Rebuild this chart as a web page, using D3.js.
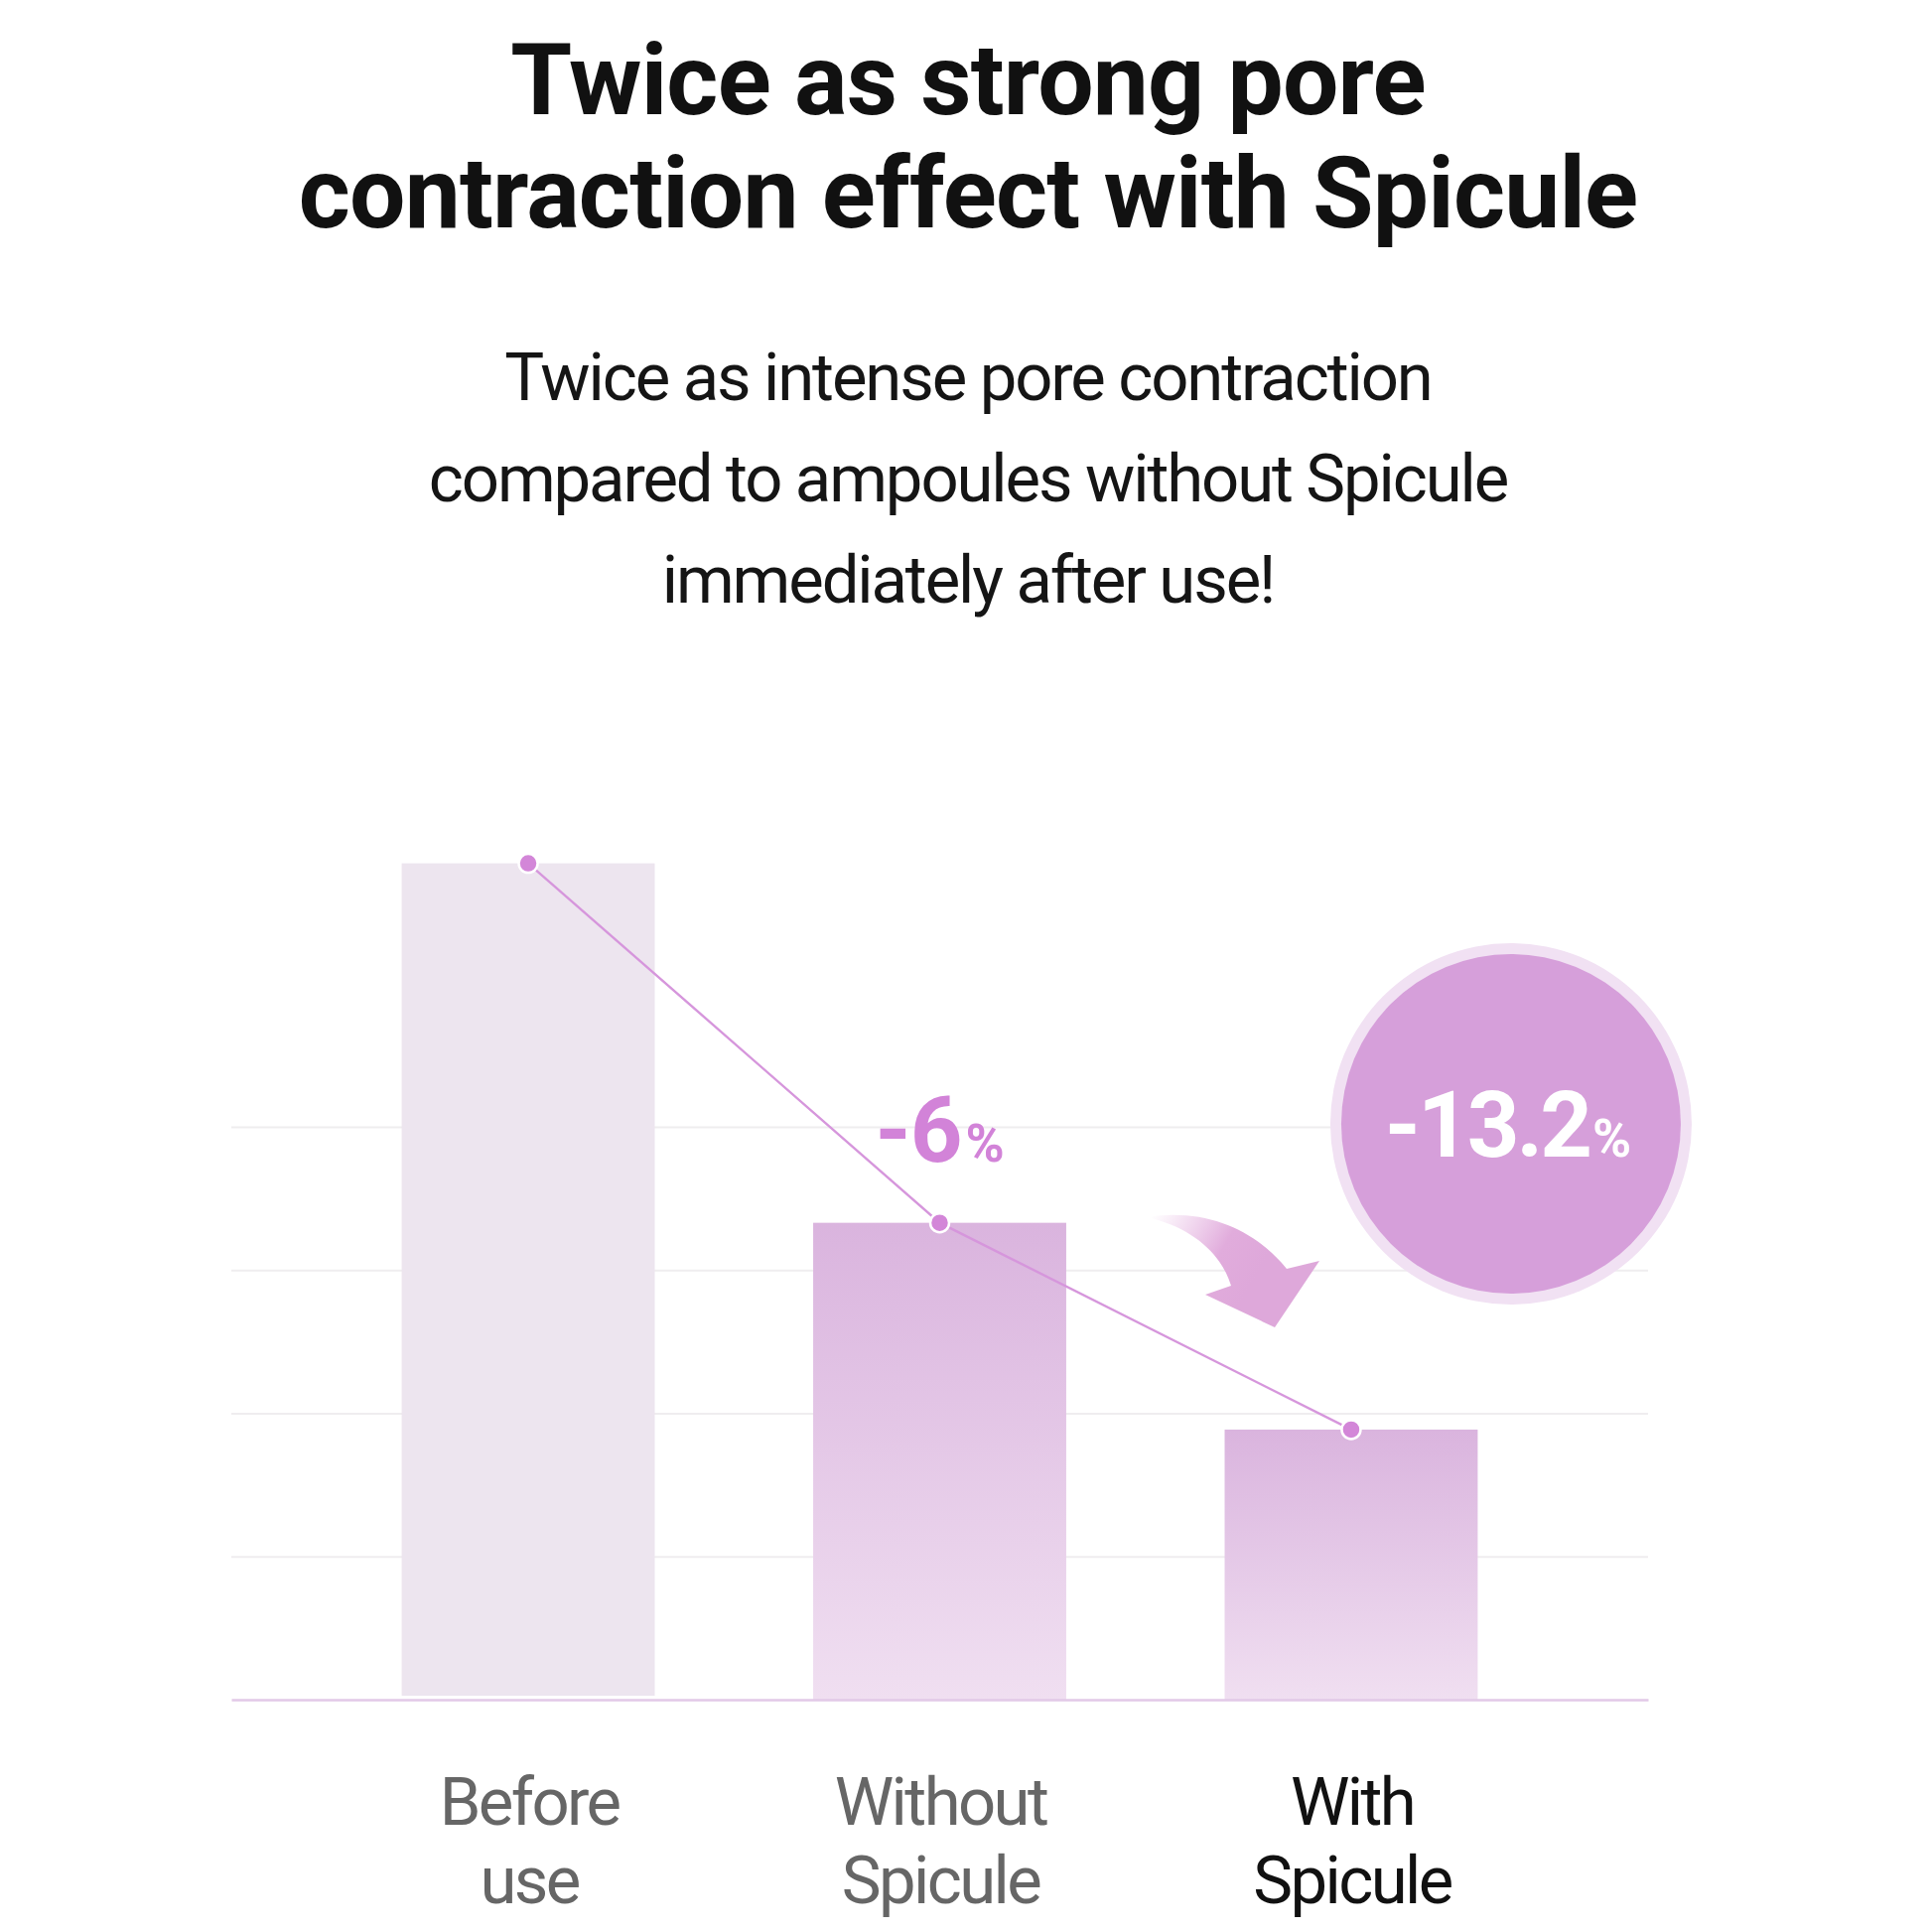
<!DOCTYPE html>
<html><head><meta charset="utf-8">
<script src="https://cdn.jsdelivr.net/npm/d3@7"></script>
<style>
html,body{margin:0;padding:0;background:#fff;}
svg{display:block;}
</style></head>
<body>
<script>
// ---- data ----
const titleLines = ["Twice as strong pore", "contraction effect with Spicule"];
const subtitleLines = ["Twice as intense pore contraction", "compared to ampoules without Spicule", "immediately after use!"];
const categories = ["Before use", "Without Spicule", "With Spicule"];
const labelLines = [["Before", "use"], ["Without", "Spicule"], ["With", "Spicule"]];
const values = [5.84, 3.33, 1.886];
const gridTicks = [1, 2, 3, 4];
const changeLabels = [null, {num: "-6", unit: "%"}, {num: "-13.2", unit: "%"}];

// ---- layout ----
const W = 1946, H = 1946;
const svg = d3.select("body").append("svg").attr("width", W).attr("height", H);
const defs = svg.append("defs");
const font = "Roboto, 'Noto Sans', sans-serif";

const x = d3.scaleBand().domain(categories).range([233, 1660]).paddingInner(0.385).paddingOuter(0.414);
const y = d3.scaleLinear().domain([0, 4]).range([1712, 1135]);

// gradients
const g1 = defs.append("linearGradient").attr("id", "barGrad").attr("x1", 0).attr("y1", 0).attr("x2", 0).attr("y2", 1);
g1.append("stop").attr("offset", 0).attr("stop-color", "#dab4de");
g1.append("stop").attr("offset", 1).attr("stop-color", "#f0dff1");
const ag = defs.append("linearGradient").attr("id", "arrowGrad").attr("gradientUnits", "userSpaceOnUse")
  .attr("x1", 1160).attr("y1", 1224).attr("x2", 1265).attr("y2", 1285);
ag.append("stop").attr("offset", 0).attr("stop-color", "#e6b6e2").attr("stop-opacity", 0);
ag.append("stop").attr("offset", 0.65).attr("stop-color", "#e1acdc").attr("stop-opacity", 1);
ag.append("stop").attr("offset", 1).attr("stop-color", "#dea8da").attr("stop-opacity", 1);

// title
const title = svg.append("text").attr("text-anchor", "middle").attr("font-family", font)
  .attr("font-weight", 700).attr("font-size", 100).attr("letter-spacing", -0.8).attr("fill", "#111");
titleLines.forEach((t, i) => title.append("tspan").attr("x", 975).attr("y", 115 + i * 114).text(t));

const sub = svg.append("text").attr("text-anchor", "middle").attr("font-family", font)
  .attr("font-weight", 400).attr("font-size", 67).attr("letter-spacing", -2.1).attr("fill", "#151515");
subtitleLines.forEach((t, i) => sub.append("tspan").attr("x", 975).attr("y", 403 + i * 102).text(t));

// gridlines
const grid = svg.append("g").attr("transform", "translate(233,0)")
  .call(d3.axisLeft(y).tickValues(gridTicks).tickSize(-(1660 - 233)).tickFormat(""));
grid.select(".domain").remove();
grid.selectAll(".tick line").attr("stroke", "#efedef").attr("stroke-width", 2);

// bars
svg.append("g").selectAll("rect").data(values).join("rect")
  .attr("x", (d, i) => x(categories[i]))
  .attr("y", d => y(d))
  .attr("width", x.bandwidth())
  .attr("height", (d, i) => y(0) - y(d) - (i === 0 ? 4 : 0))
  .attr("fill", (d, i) => i === 0 ? "#ede5ef" : "url(#barGrad)");

// baseline axis
const axis = svg.append("g").attr("transform", `translate(0,${y(0)})`)
  .call(d3.axisBottom(x).tickSize(0).tickFormat(""));
axis.select(".domain").attr("stroke", "#e2c9e7").attr("stroke-width", 2.5);

// curved arrow
svg.append("path")
  .attr("d", "M1155,1226 C1215,1216 1266,1240 1296,1278 L1329,1270 L1284,1337 L1214,1304 L1240,1295 C1230,1262 1200,1236 1155,1226 Z")
  .attr("fill", "url(#arrowGrad)");

// line
const cx = (d, i) => x(categories[i]) + x.bandwidth() / 2;
svg.append("path").datum(values)
  .attr("d", d3.line().x((d, i) => cx(d, i)).y(d => y(d)))
  .attr("fill", "none").attr("stroke", "#d696dc").attr("stroke-width", 2.4);
svg.append("g").selectAll("circle").data(values).join("circle")
  .attr("cx", (d, i) => cx(d, i)).attr("cy", d => y(d)).attr("r", 9.5)
  .attr("fill", "#d386d8").attr("stroke", "#fff").attr("stroke-width", 2.5);

// -6% label
const c1 = changeLabels[1];
const t6 = svg.append("text").attr("x", cx(values[1], 1)).attr("y", y(values[1]) - 62)
  .attr("text-anchor", "middle").attr("font-family", font).attr("font-weight", 700).attr("fill", "#d283d8");
t6.append("tspan").attr("font-size", 92).attr("letter-spacing", -1).text(c1.num);
t6.append("tspan").attr("font-size", 53).attr("dx", 4).text(c1.unit);

// big circle
const c2 = changeLabels[2];
const ccx = cx(values[2], 2) + 161, ccy = y(4) - 3;
svg.append("circle").attr("cx", ccx).attr("cy", ccy).attr("r", 182).attr("fill", "#f1e1f3");
svg.append("circle").attr("cx", ccx).attr("cy", ccy).attr("r", 171).attr("fill", "#d69fda");
const t13 = svg.append("text").attr("x", ccx - 3).attr("y", ccy + 33)
  .attr("text-anchor", "middle").attr("font-family", font).attr("font-weight", 700).attr("fill", "#fff");
t13.append("tspan").attr("font-size", 92).attr("letter-spacing", -3).text(c2.num);
t13.append("tspan").attr("font-size", 53).attr("dx", 3).text(c2.unit);

// x labels
const lab = svg.append("g").selectAll("text").data(labelLines).join("text")
  .attr("text-anchor", "middle").attr("font-family", font).attr("font-weight", 400)
  .attr("font-size", 67).attr("letter-spacing", -2.6)
  .attr("fill", (d, i) => i === 2 ? "#111" : "#666");
lab.each(function(lines, i) {
  const xc = x(categories[i]) + x.bandwidth() / 2 + 1;
  lines.forEach((l, j) => d3.select(this).append("tspan").attr("x", xc).attr("y", 1838 + j * 79).text(l));
});
</script>
</body></html>
